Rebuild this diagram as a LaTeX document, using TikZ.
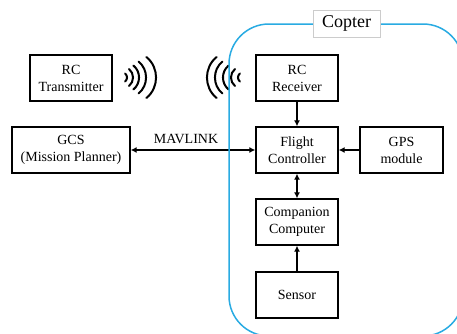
\documentclass[tikz,border=0pt]{standalone}
\usepackage{fontspec}
\setmainfont{Liberation Serif}
\usetikzlibrary{arrows.meta}
\definecolor{copterblue}{RGB}{41,171,226}
\tikzset{
  block/.style={draw, line width=1.3pt, minimum width=82pt, minimum height=46pt,
    align=center, inner sep=2pt, font=\fontsize{14}{17}\selectfont},
  link/.style={line width=1.5pt, -{Latex[length=6pt,width=6pt]}},
  dlink/.style={line width=1.5pt, {Latex[length=6pt,width=6pt]}-{Latex[length=6pt,width=6pt]}},
  wave/.style={line width=2pt, line cap=round}
}

\begin{document}
\begin{tikzpicture}[x=1pt,y=-1pt]
            \useasboundingbox (0,0) rectangle (457,333);

            \node[block] (tx) at (71,78) {RC\\Transmitter};
            \node[block] (rx) at (297,78) {RC\\Receiver};
            \node[block, minimum width=118pt] (gcs) at (71,150) {GCS\\(Mission Planner)};
            \node[block] (fc) at (297,150) {Flight\\Controller};
            \node[block, minimum width=83pt] (gps) at (401.5,150) {GPS\\module};
            \node[block] (cc) at (297,222) {Companion\\Computer};
            \node[block] (sensor) at (297,295) {Sensor};
            \node[font=\fontsize{14}{17}\selectfont] (mav) at (186,139) {MAVLINK};

            % radio waves
            \foreach \ax/\hh in {127/4,133/8.5,139/12,146/16,156/20.5} {
                \draw[wave] (\ax-0.47*\hh,77.5-\hh) .. controls (\ax+0.16*\hh,77.5-0.5*\hh) and (\ax+0.16*\hh,77.5+0.5*\hh) .. (\ax-0.47*\hh,77.5+\hh);
            }
            \foreach \ax/\hh in {238/4,231/8.5,223/12,215/16,207/20.5} {
                \draw[wave] (\ax+0.47*\hh,77.5-\hh) .. controls (\ax-0.16*\hh,77.5-0.5*\hh) and (\ax-0.16*\hh,77.5+0.5*\hh) .. (\ax+0.47*\hh,77.5+\hh);
            }

            \draw[link] (rx) -- (fc);
            \draw[link] (gps) -- (fc);
            \draw[dlink] (fc) -- (cc);
            \draw[link] (sensor) -- (cc);
            \draw[dlink] (gcs) -- (fc);

            % copter frame
            \begin{scope}
                \clip (0,0) rectangle (457,333);
                \draw[copterblue, line width=1.5pt, rounded corners=40pt] (229,24) rectangle (463,336);
            \end{scope}
            \node[draw=gray!40, fill=white, minimum width=67pt, minimum height=27pt,
                inner sep=1pt, font=\fontsize{18}{20}\selectfont] (copter) at (346.5,23.5) {Copter};
        \end{tikzpicture}
\end{document}
